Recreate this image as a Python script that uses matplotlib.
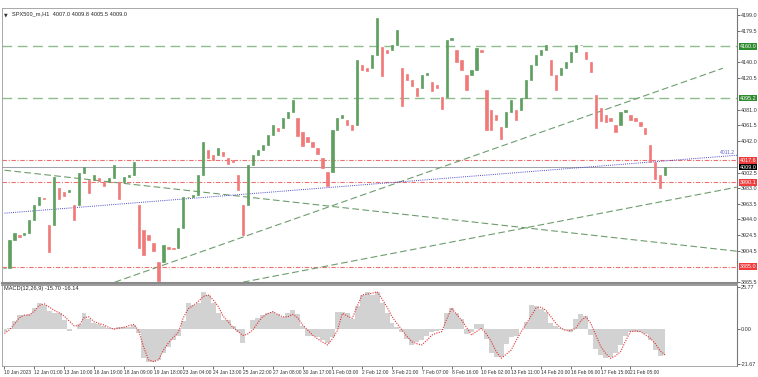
import matplotlib.pyplot as plt
import matplotlib.transforms as mtransforms
import numpy as np

# DATA (H1 closes, one value per ~5 bars)
closes = [
    3883.0, 3918.0, 3926.7, 3924.2, 3926.7, 3943.0, 3961.7, 3971.7, 3970.4, 3936.7,
    3996.7, 3982.9, 3977.9, 3980.4, 3961.7, 4001.7, 4009.2, 3992.9, 3999.2, 3995.4,
    3990.4, 3995.4, 4011.6, 3990.4, 3996.7, 3999.2, 4015.4, 3961.7, 3930.5, 3924.2,
    3914.2, 3890.5, 3911.7, 3909.2, 3907.9, 3933.0, 3971.7, 3971.7, 3974.2, 3999.2,
    4040.4, 4030.4, 4024.1, 4032.9, 4027.9, 4020.4, 4017.9, 3999.2, 3961.7, 4011.6,
    4024.1, 4030.4, 4036.6, 4049.1, 4061.6, 4057.9, 4070.4, 4077.8, 4092.8, 4070.4,
    4052.9, 4046.6, 4040.4, 4032.9, 4020.4, 4002.9, 4055.4, 4070.4, 4074.1, 4067.9,
    4061.6, 4142.8, 4136.5, 4132.8, 4149.0, 4195.3, 4159.0, 4155.3, 4161.5, 4180.3,
    4132.8, 4125.3, 4117.8, 4107.8, 4124.1, 4126.6, 4115.3, 4111.6, 4096.6, 4167.8,
    4170.3, 4155.3, 4142.8, 4124.1, 4130.3, 4157.8, 4155.3, 4105.3, 4080.3, 4074.1,
    4059.1, 4077.8, 4092.8, 4080.3, 4095.3, 4117.8, 4136.5, 4149.0, 4155.3, 4161.5,
    4142.8, 4124.1, 4132.8, 4140.3, 4152.8, 4161.5, 4161.5, 4152.8, 4140.3, 4099.1,
    4082.8, 4074.1, 4070.4, 4061.6, 4077.8, 4080.3, 4074.1, 4070.4, 4065.4, 4057.9,
    4036.6, 4015.4, 3999.2, 4009.0,
]

macd_main = [
    -1.6, 0.5, 5, 8.6, 8.6, 9, 13, 15.8, 15, 11,
    10, 10, 5.5, -1, 0, 3, 9.8, 6, 4, 3,
    2, 0.5, 0.5, 1, 1.2, 1.2, 2.5, -2.5, -18, -20,
    -20, -19, -15, -11, -7, -4, 5, 16, 15, 16,
    23, 21, 16, 10, 5.5, 5.5, 2, -2, -8.8, 0,
    5.5, 7, 8.6, 10, 10.7, 9, 7.6, 10, 11.5, 9,
    2, -4, -4.5, -5, -7, -8.8, -5, 10.7, 10.7, 10,
    6, 14, 21, 22.5, 21, 23, 16, 10, 4, 1,
    -1.6, -6, -9.8, -8, -6.8, -4, -1.6, -1, -0.4, 10,
    12.9, 10, 6, -3, -2, 3, 3, -6, -15, -17,
    -17, -9, -5, -4, 0, 4.5, 14.8, 14, 12.5, 10.7,
    3.5, 2, 0.6, -0.5, -1.6, 6, 9.5, 8, -3.7, -12,
    -16, -18, -17, -15, -10, -4, -1.6, -1.6, -2, -3,
    -7, -13, -16.5, -15.7,
]

macd_signal = [
    -2.7, -0.5, 3, 7, 8.6, 8.6, 11, 14.5, 15.5, 13.5,
    11.5, 10, 8, 5, 2, 2, 7, 7.5, 4.5, 3.5,
    2.5, 1, -0.2, 0.5, 1, 2, 2.9, -1, -11, -19,
    -20, -19, -13, -8.5, -5, -2, 7, 12.5, 14.5, 17,
    20, 21, 18, 14, 8, 4.5, 1, -1.5, -4, -3,
    -0.6, 4, 7.6, 9.5, 10.7, 9, 7.5, 7.5, 9, 7,
    2.5, -0.5, -3.7, -6, -8, -9.8, -6, -1, 9.6, 8,
    6.6, 14, 21, 21.5, 22, 23, 18.5, 13.5, 7.6, 3.5,
    -0.6, -4.5, -7.8, -9, -9.8, -7, -3.7, -2.5, -1.6, 6,
    12.9, 9, 5.5, 1, -3.7, -1.5, 0.4, -3, -7.8, -14,
    -18, -15.5, -12.9, -7, -1.6, 3, 8, 13, 13.5, 11.5,
    7.5, 3.5, 0.5, -1, -1, 0.5, 5, 7.5, 3.5, -3.5,
    -10.7, -15, -18, -16.5, -14, -7.5, -1.6, -1.2, -1.6, -3.5,
    -5.7, -9, -13.5, -16.1,
]

date_labels = [
    '10 Jan 2023', '12 Jan 01:00', '13 Jan 10:00', '16 Jan 19:00', '18 Jan 09:00',
    '19 Jan 18:00', '23 Jan 04:00', '24 Jan 13:00', '25 Jan 22:00', '27 Jan 08:00',
    '30 Jan 17:00', '1 Feb 03:00', '2 Feb 12:00', '3 Feb 21:00', '7 Feb 07:00',
    '8 Feb 16:00', '10 Feb 02:00', '13 Feb 11:00', '14 Feb 20:00', '16 Feb 06:00',
    '17 Feb 15:00', '21 Feb 05:00',
]

price_ticks = [4199.0, 4179.5, 4140.0, 4120.5, 4081.0, 4061.5, 4042.0,
               4002.5, 3983.0, 3963.5, 3944.0, 3924.5, 3904.5, 3865.5]

support_levels = [4160.0, 4095.2]        # green dashed
red_levels = [4017.6, 3990.1, 3885.0]    # red dash-dot
bid_price = 4009.0

# trendlines: (bar0, price0, bar1, price1)
trend_down = (0, 4005.4, 147.4, 3904.2)
trend_up_steep = (22.2, 3865.5, 144.6, 4132.8)
trend_up_low = (48.0, 3865.5, 147.4, 3984.2)
trend_blue = (0, 3951.7, 147.4, 4024.1)

BULL = '#5f9f5f'
BEAR = '#f07a7a'
XMAX = 147.4
FONT = 'Liberation Sans'

fig = plt.figure(figsize=(7.58, 3.77), dpi=100)
ax = fig.add_axes([0.002, 0.249, 0.970, 0.729])
axm = fig.add_axes([0.002, 0.029, 0.970, 0.215], sharex=ax)

# candles (open = previous close)
x = np.arange(len(closes))
opens = [closes[0]] + closes[:-1]
for i in range(len(closes)):
    o, c = opens[i], closes[i]
    col = BULL if c >= o else BEAR
    ax.bar(x[i], c - o if c != o else 0.8, bottom=min(o, c), width=0.45,
           color=col, edgecolor=col, linewidth=0.5, zorder=3)

for lv in support_levels:
    ax.axhline(lv, color='#8dbd8d', lw=1.0, dashes=(7, 4), zorder=2)
for lv in red_levels:
    ax.axhline(lv, color='#f07070', lw=0.8, dashes=(4, 1.5, 1, 1.5), zorder=2)
ax.axhline(bid_price, color='#a0a0a8', lw=0.7, zorder=2)

for t in [trend_down, trend_up_steep, trend_up_low]:
    ax.plot([t[0], t[2]], [t[1], t[3]], color='#6d9d6d', lw=0.8, dashes=(6, 3), zorder=2)
ax.plot([trend_blue[0], trend_blue[2]], [trend_blue[1], trend_blue[3]],
        color='#4a4ac8', lw=0.7, ls=(0, (1, 1.2)), zorder=2)
ax.text(XMAX - 0.3, 4024.5, '4011.2', fontsize=3.6, color='#6060d0',
        ha='right', va='bottom', family=FONT)

ax.set_xlim(-0.6, XMAX)
ax.set_ylim(3864.3, 4207.7)
ax.yaxis.tick_right()
ax.set_yticks(price_ticks)
ax.set_yticklabels([f'{v:.1f}' for v in price_ticks], family=FONT)
ax.tick_params(axis='y', labelsize=3.9, colors='#333333', length=2, width=0.5, pad=1)
ax.tick_params(axis='x', bottom=False, labelbottom=False)

# price labels on the right
tr = mtransforms.blended_transform_factory(ax.transAxes, ax.transData)
boxes = [(4160.0, '#2e8b2e', 'white'), (4095.2, '#2e8b2e', 'white'),
         (4017.6, '#f03c3c', 'white'), (bid_price, '#000000', 'white'),
         (3990.1, '#f03c3c', 'white'), (3885.0, '#f03c3c', 'white')]
for val, bg, fg in boxes:
    ax.text(1.004, val, f'{val:.1f}', transform=tr, fontsize=3.9, color=fg,
            ha='left', va='center', zorder=5, clip_on=False, family=FONT,
            bbox=dict(boxstyle='square,pad=0.12', fc=bg, ec='none'))

ax.text(0.004, 0.985, '\u25bc', transform=ax.transAxes, fontsize=3.4,
        color='#333333', va='top')
ax.text(0.014, 0.988, 'SPX500_m,H1  4007.0 4009.8 4005.5 4009.0',
        transform=ax.transAxes, fontsize=4.1, color='#222222', va='top', family=FONT)

# MACD panel
xm = np.arange(len(macd_main))
axm.fill_between(xm, 0, macd_main, color='#d2d2d2', lw=0, step='mid', zorder=2)
axm.plot(np.arange(len(macd_signal)), macd_signal, color='#e03030', lw=0.8,
         ls=(0, (1, 1.2)), zorder=3)
axm.set_ylim(-22.8, 27.1)
axm.yaxis.tick_right()
axm.set_yticks([25.77, 0.0, -21.67])
axm.set_yticklabels(['25.77', '0.00', '-21.67'], family=FONT)
axm.tick_params(axis='y', labelsize=3.9, colors='#333333', length=2, width=0.5, pad=1)
axm.text(0.004, 0.985, 'MACD(12,26,9) -15.70 -16.14', transform=axm.transAxes,
         fontsize=4.1, color='#222222', va='top', family=FONT)

tick_pos = np.arange(len(date_labels)) * 6
axm.set_xticks(tick_pos)
axm.set_xticklabels(date_labels, ha='left', family=FONT)
axm.tick_params(axis='x', labelsize=3.55, colors='#333333', length=2, width=0.5, pad=1)

for a in (ax, axm):
    for s in a.spines.values():
        s.set_color('#9a9a9a')
        s.set_linewidth(0.6)
    a.spines['right'].set_color('#777777')
    a.spines['right'].set_linewidth(0.8)
ax.spines['bottom'].set_color('#8a8a8a')
ax.spines['bottom'].set_linewidth(1.5)
axm.spines['top'].set_color('#8a8a8a')
axm.spines['top'].set_linewidth(1.2)

fig.savefig('out.png', dpi=100, facecolor='white')
